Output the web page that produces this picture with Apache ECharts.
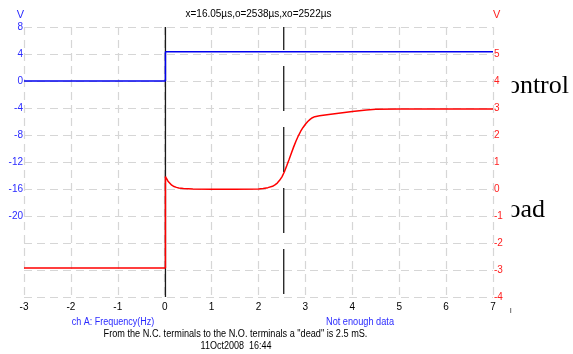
<!DOCTYPE html>
<html>
<head>
<meta charset="utf-8">
<script src="https://cdn.jsdelivr.net/npm/echarts@6/dist/echarts.min.js"></script>
<style>html,body{margin:0;padding:0;background:#fff}#c{width:573px;height:354px}</style>
</head>
<body>
<div id="c"></div>
<script>
// ---- data ----
const xTicks = [-3, -2, -1, 0, 1, 2, 3, 4, 5, 6, 7];
const leftTicks = [8, 4, 0, -4, -8, -12, -16, -20];
const rightTicks = [5, 4, 3, 2, 1, 0, -1, -2, -3, -4];

// channel A (blue, left axis, V)
const blueX = [-3, 0.016, 0.016, 7];
const blueY = [0, 0, 4.34, 4.34];

// channel B (red, right axis, V)
const redX = [-3, 0.016, 0.016, 0.04, 0.07, 0.1, 0.15, 0.2, 0.25, 0.3, 0.4, 0.6, 1.0, 1.5, 2.0, 2.1, 2.2, 2.3, 2.35, 2.4, 2.45, 2.5, 2.55, 2.6, 2.65, 2.7, 2.75, 2.8, 2.85, 2.9, 2.95, 3.0, 3.05, 3.1, 3.15, 3.2, 3.3, 3.5, 4.0, 4.3, 4.5, 5.0, 7.0];
const redY = [-2.93, -2.93, 0.46, 0.38, 0.29, 0.22, 0.14, 0.09, 0.06, 0.04, 0.02, 0.0, -0.01, -0.01, 0.0, 0.02, 0.05, 0.1, 0.15, 0.22, 0.32, 0.45, 0.63, 0.85, 1.08, 1.32, 1.56, 1.78, 1.97, 2.14, 2.28, 2.40, 2.50, 2.58, 2.64, 2.68, 2.71, 2.76, 2.87, 2.93, 2.95, 2.96, 2.96];

// cursors (ms)
const cursorX = 0.016;
const cursorO = 2.538;

const topText = 'x=16.05µs,o=2538µs,xo=2522µs';
const chALabel = 'ch A: Frequency(Hz)';
const chBLabel = 'Not enough data';
const noteText = 'From the N.C. terminals to the N.O. terminals a "dead" is 2.5 mS.';
const dateText = '11Oct2008  16:44';
const sideLabels = ['Control', 'Load'];

// ---- chart ----
const FF = '"Liberation Sans", Arial, sans-serif';
const SERIF = '26px "Liberation Serif", "Times New Roman", serif';
const chart = echarts.init(document.getElementById('c'), null, {renderer: 'canvas'});
const zip = (xs, ys) => xs.map((x, i) => [x, ys[i]]);

const gridDash = {color: '#d6d6d6', width: 1.2, type: [8, 5]};
const smallText = (text, x, y, fill, sx) => ({
  type: 'text', x: x, y: y, z: 5, scaleX: sx || 1, originX: 0, originY: 0,
  style: {text: text, fill: fill, font: '10px ' + FF, textAlign: 'center', textVerticalAlign: 'middle'}
});

chart.setOption({
  animation: false,
  backgroundColor: '#fff',
  grid: {left: 24, right: 80, top: 27, bottom: 57},
  xAxis: {
    type: 'value', min: -3, max: 7, interval: 1,
    axisLine: {show: false, onZero: false}, axisTick: {show: false},
    splitLine: {show: true, lineStyle: gridDash},
    axisLabel: {color: '#000', fontSize: 10, fontFamily: FF, margin: 5,
      formatter: v => xTicks.includes(v) ? String(v) : ''}
  },
  yAxis: [{
    type: 'value', min: -32, max: 8, interval: 4, position: 'left',
    name: 'V', nameLocation: 'end', nameGap: 7,
    nameTextStyle: {color: '#2b2bff', fontSize: 11, fontFamily: FF, align: 'right'},
    axisLine: {show: false, onZero: false}, axisTick: {show: false},
    splitLine: {show: true, lineStyle: gridDash},
    axisLabel: {color: '#2b2bff', fontSize: 10, fontFamily: FF, margin: 1,
      formatter: v => leftTicks.includes(v) ? String(v) : ''}
  }, {
    type: 'value', min: -4, max: 6, interval: 1, position: 'right',
    name: 'V', nameLocation: 'end', nameGap: 7,
    nameTextStyle: {color: '#ff2020', fontSize: 11, fontFamily: FF, align: 'left'},
    axisLine: {show: false, onZero: false}, axisTick: {show: false},
    splitLine: {show: false},
    axisLabel: {color: '#ff2020', fontSize: 10, fontFamily: FF, margin: 1,
      formatter: v => rightTicks.includes(v) ? String(v) : ''}
  }],
  series: [{
    type: 'line', yAxisIndex: 0, symbol: 'none', silent: true,
    data: [[cursorX, 8], [cursorX, -32]],
    lineStyle: {color: '#1a1a1a', width: 1.3}
  }, {
    type: 'line', yAxisIndex: 0, symbol: 'none', silent: true,
    data: [[cursorO, 8], [cursorO, -32]],
    lineStyle: {color: '#1a1a1a', width: 1.3, type: [45, 16], dashOffset: 22}
  }, {
    type: 'line', yAxisIndex: 0, symbol: 'none', silent: true,
    data: zip(blueX, blueY),
    lineStyle: {color: '#0000ee', width: 1.5}
  }, {
    type: 'line', yAxisIndex: 1, symbol: 'none', silent: true,
    data: zip(redX, redY),
    lineStyle: {color: '#ff0000', width: 1.5}
  }],
  graphic: [
    smallText(topText, 258.5, 14, '#000'),
    smallText(chALabel, 113, 322, '#2b2bff', 0.9),
    smallText(chBLabel, 360, 322, '#2b2bff', 0.92),
    smallText(noteText, 235.5, 334, '#000', 0.915),
    smallText(dateText, 236, 346.5, '#000', 0.9),
    {type: 'line', z: 5, shape: {x1: 510.7, y1: 308, x2: 510.7, y2: 313}, style: {stroke: '#444', lineWidth: 0.8}}
  ]
});

// side labels, clipped on their left like the reference
const zr = chart.getZr();
[[sideLabels[0], 569, 73], [sideLabels[1], 545, 197]].forEach(([txt, x, y]) => {
  const t = new echarts.graphic.Text({
    style: {text: txt, x: x, y: y, fill: '#000', font: SERIF, align: 'right', verticalAlign: 'top'},
    z: 10
  });
  t.setClipPath(new echarts.graphic.Rect({shape: {x: 511.7, y: 0, width: 80, height: 354}}));
  zr.add(t);
});
</script>
</body>
</html>
